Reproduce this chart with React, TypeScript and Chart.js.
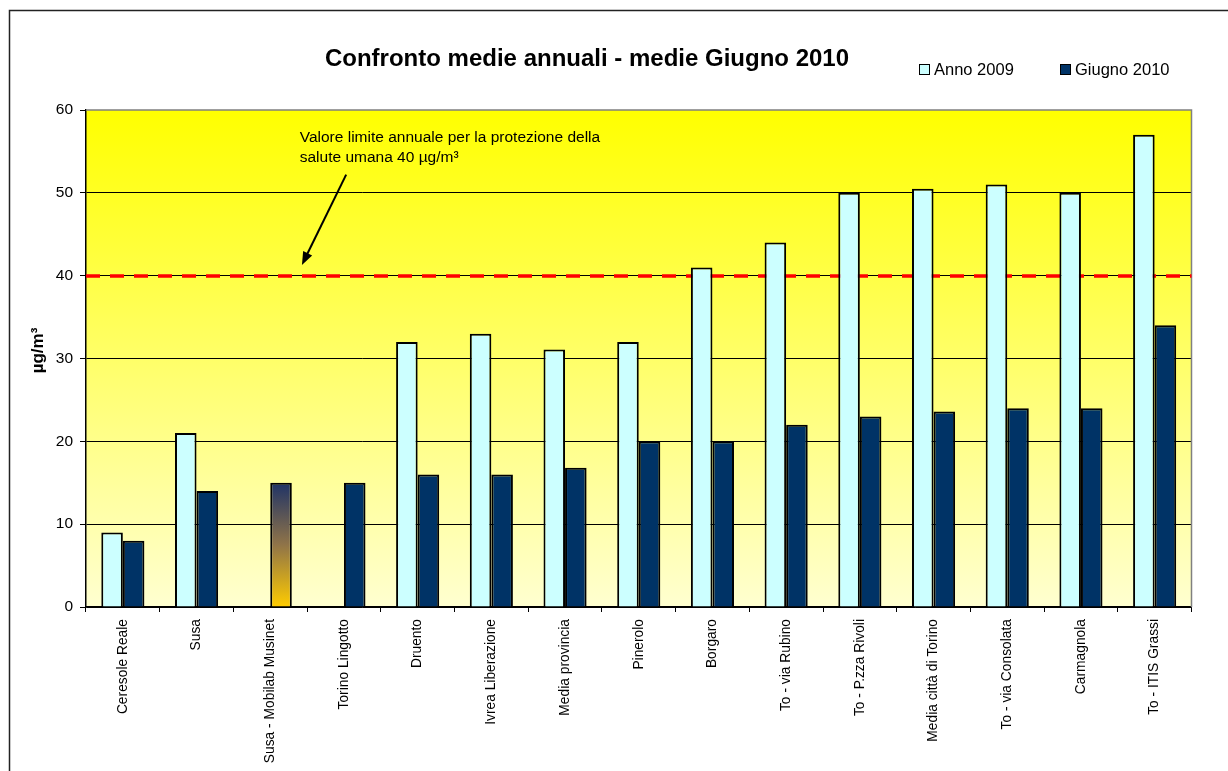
import React, { useEffect, useRef } from "react";
import { Chart, registerables } from "chart.js";

Chart.register(...registerables);

const CATEGORIES = [
  "Ceresole Reale",
  "Susa",
  "Susa - Mobilab Musinet",
  "Torino Lingotto",
  "Druento",
  "Ivrea Liberazione",
  "Media provincia",
  "Pinerolo",
  "Borgaro",
  "To - via Rubino",
  "To - P.zza Rivoli",
  "Media città di Torino",
  "To - via Consolata",
  "Carmagnola",
  "To - ITIS Grassi",
];
const ANNO_2009 = [9, 21, null, null, 32, 33, 31.1, 32, 41, 44, 50, 50.5, 51, 50, 57];
const GIUGNO_2010 = [8, 14, 15, 15, 16, 16, 16.8, 20, 20, 22, 23, 23.6, 24, 24, 34];
const SERIES_NAMES = ["Anno 2009", "Giugno 2010"];
const TITLE = "Confronto medie annuali - medie Giugno 2010";
const Y_TITLE = "µg/m³";
const Y_MIN = 0;
const Y_MAX = 60;
const Y_STEP = 10;
const LIMIT_VALUE = 40;
const NOTE_LINES = ["Valore limite annuale per la protezione della", "salute umana 40 µg/m³"];
// annotation anchor in data units (category index, value)
const NOTE_POS = { x: 2.4, y: 56.1 };
const ARROW_FROM = { x: 3.03, y: 52.2 };
const ARROW_TO = { x: 2.43, y: 41.3 };
const GRADIENT_INDEX = 2;

const FONT = "'Liberation Sans', Arial, sans-serif";
const LIGHT = "#CCFFFF";
const DARK = "#003366";

const decorPlugin = {
  id: "decor",
  beforeDraw(chart: any) {
    const { ctx, chartArea: a } = chart;
    ctx.save();
    ctx.fillStyle = "#ffffff";
    ctx.fillRect(0, 0, chart.width, chart.height);
    const g = ctx.createLinearGradient(0, a.top, 0, a.bottom);
    g.addColorStop(0, "#FFFF00");
    g.addColorStop(1, "#FFFFD0");
    ctx.fillStyle = g;
    ctx.fillRect(a.left, a.top, a.right - a.left, a.bottom - a.top);
    ctx.strokeStyle = "#222";
    ctx.lineWidth = 1.5;
    ctx.strokeRect(9.5, 10.5, chart.width + 40, chart.height + 40);
    ctx.restore();
  },
  beforeDatasetsDraw(chart: any) {
    const { ctx, chartArea: a, scales } = chart;
    ctx.save();
    ctx.strokeStyle = "#808080";
    ctx.lineWidth = 1.5;
    ctx.beginPath();
    ctx.moveTo(a.left, a.top);
    ctx.lineTo(a.right, a.top);
    ctx.lineTo(a.right, a.bottom);
    ctx.stroke();
    const y = Math.round(scales.y.getPixelForValue(LIMIT_VALUE));
    ctx.strokeStyle = "#FF0000";
    ctx.lineWidth = 3.5;
    ctx.setLineDash([14, 10]);
    ctx.beginPath();
    ctx.moveTo(a.left, y);
    ctx.lineTo(a.right, y);
    ctx.stroke();
    ctx.restore();
  },
  afterDraw(chart: any) {
    const { ctx, chartArea: a, scales } = chart;
    const xs = scales.x;
    const ys = scales.y;
    ctx.save();
    ctx.fillStyle = "#000";
    ctx.font = `bold 24px ${FONT}`;
    ctx.textAlign = "center";
    ctx.textBaseline = "middle";
    ctx.fillText(TITLE, 587, 59);
    ctx.font = `16.5px ${FONT}`;
    ctx.textAlign = "left";
    const legendItems = [
      { x: 919, color: LIGHT },
      { x: 1060, color: DARK },
    ];
    legendItems.forEach((it, i) => {
      ctx.fillStyle = it.color;
      ctx.fillRect(it.x + 0.5, 64.5, 10, 10);
      ctx.strokeStyle = "#000";
      ctx.lineWidth = 1;
      ctx.strokeRect(it.x + 0.5, 64.5, 10, 10);
      ctx.fillStyle = "#000";
      ctx.fillText(SERIES_NAMES[i], it.x + 15, 70.5);
    });
    ctx.save();
    ctx.translate(38, (a.top + a.bottom) / 2 - 8);
    ctx.rotate(-Math.PI / 2);
    ctx.font = `bold 17px ${FONT}`;
    ctx.textAlign = "center";
    ctx.fillText(Y_TITLE, 0, 0);
    ctx.restore();
    ctx.font = `15.5px ${FONT}`;
    ctx.textAlign = "left";
    ctx.textBaseline = "alphabetic";
    const nx = xs.getPixelForValue(NOTE_POS.x);
    const ny = ys.getPixelForValue(NOTE_POS.y);
    NOTE_LINES.forEach((l, i) => ctx.fillText(l, nx, ny + i * 20));
    const x1 = xs.getPixelForValue(ARROW_FROM.x);
    const y1 = ys.getPixelForValue(ARROW_FROM.y);
    const x2 = xs.getPixelForValue(ARROW_TO.x);
    const y2 = ys.getPixelForValue(ARROW_TO.y);
    const ang = Math.atan2(y2 - y1, x2 - x1);
    const hl = 13;
    const hw = 5;
    ctx.strokeStyle = "#000";
    ctx.lineWidth = 2;
    ctx.beginPath();
    ctx.moveTo(x1, y1);
    ctx.lineTo(x2 - Math.cos(ang) * hl * 0.8, y2 - Math.sin(ang) * hl * 0.8);
    ctx.stroke();
    ctx.beginPath();
    ctx.moveTo(x2, y2);
    ctx.lineTo(
      x2 - Math.cos(ang) * hl + Math.sin(ang) * hw,
      y2 - Math.sin(ang) * hl - Math.cos(ang) * hw
    );
    ctx.lineTo(
      x2 - Math.cos(ang) * hl - Math.sin(ang) * hw,
      y2 - Math.sin(ang) * hl + Math.cos(ang) * hw
    );
    ctx.closePath();
    ctx.fillStyle = "#000";
    ctx.fill();
    ctx.restore();
  },
};

export default function App() {
  const ref = useRef<HTMLCanvasElement | null>(null);

  useEffect(() => {
    if (!ref.current) return;
    const darkColor = (c: any) => {
      if (c.dataIndex !== GRADIENT_INDEX) return DARK;
      const chart = c.chart;
      const ys = chart.scales && chart.scales.y;
      if (!chart.chartArea || !ys || c.raw == null) return DARK;
      const top = ys.getPixelForValue(c.raw);
      const base = ys.getPixelForValue(0);
      if (!isFinite(top) || !isFinite(base)) return DARK;
      const g = chart.ctx.createLinearGradient(0, top, 0, base);
      g.addColorStop(0, "#1F3366");
      g.addColorStop(0.5, "#907448");
      g.addColorStop(1, "#FFCC00");
      return g;
    };
    const chart = new Chart(ref.current, {
      type: "bar",
      data: {
        labels: CATEGORIES,
        datasets: [
          {
            label: SERIES_NAMES[0],
            data: ANNO_2009,
            backgroundColor: LIGHT,
            borderColor: "#000",
            borderWidth: 2,
            categoryPercentage: 0.585,
            barPercentage: 1,
          },
          {
            label: SERIES_NAMES[1],
            data: GIUGNO_2010,
            backgroundColor: darkColor,
            borderColor: "#000",
            borderWidth: 2,
            categoryPercentage: 0.585,
            barPercentage: 1,
          },
        ],
      },
      options: {
        responsive: false,
        animation: false,
        events: [],
        layout: { padding: { top: 110, left: 0, right: 36.5, bottom: 0 } },
        plugins: {
          legend: { display: false },
          title: { display: false },
          tooltip: { enabled: false },
        },
        scales: {
          x: {
            offset: true,
            afterFit: (s: any) => {
              s.height = 164;
            },
            grid: {
              offset: true,
              drawOnChartArea: false,
              drawTicks: true,
              tickLength: 5,
              color: "#000",
              lineWidth: 1,
            },
            border: { display: true, color: "#000", width: 1.5 },
            ticks: {
              autoSkip: false,
              minRotation: 90,
              maxRotation: 90,
              padding: 7,
              color: "#000",
              font: { family: FONT, size: 13.8 },
            },
          },
          y: {
            min: Y_MIN,
            max: Y_MAX,
            afterFit: (s: any) => {
              s.width = 86;
            },
            ticks: {
              stepSize: Y_STEP,
              padding: 7,
              color: "#000",
              font: { family: FONT, size: 15.5 },
            },
            grid: {
              color: (c: any) => (c.tick && c.tick.value === Y_MAX ? "rgba(0,0,0,0)" : "#000"),
              tickColor: "#000",
              tickLength: 6,
              lineWidth: 1,
            },
            border: { display: true, color: "#000", width: 1.5 },
          },
        },
      },
      plugins: [decorPlugin],
    });
    return () => chart.destroy();
  }, []);

  return (
    <div style={{ position: "absolute", left: 0, top: 0, width: 1228, height: 771, overflow: "hidden" }}>
      <canvas ref={ref} width={1228} height={771} style={{ display: "block" }} />
    </div>
  );
}
